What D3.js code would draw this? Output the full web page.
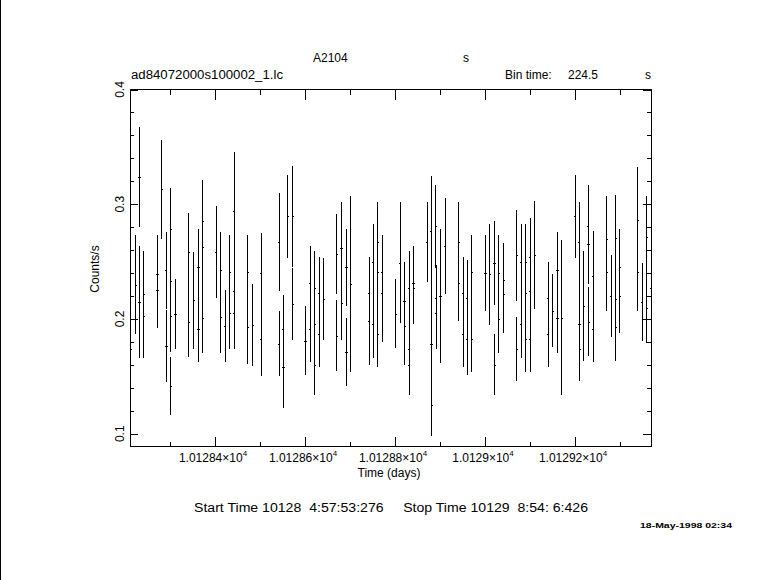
<!DOCTYPE html>
<html><head><meta charset="utf-8">
<script src="https://cdn.jsdelivr.net/npm/d3@7"></script>
<style>
body{margin:0;background:#fff}
svg{display:block}
text{font-family:"Liberation Sans",Arial,sans-serif;fill:#000}
</style>
</head><body>
<svg id="chart" width="781" height="580"></svg>
<script>
// ---- data (time in days, count rate, 1-sigma error) ----
const times = [
10128.2122,10128.2229,10128.2310,10128.2312,10128.2408,10128.2410,10128.2710,10128.2712,10128.2807,10128.2908,
10128.2910,10128.3004,10128.3006,10128.3008,10128.3010,10128.3111,10128.3408,10128.3410,10128.3518,10128.3622,
10128.3624,10128.3716,10128.3718,10128.3720,10128.4016,10128.4116,10128.4118,10128.4216,10128.4316,10128.4318,
10128.4412,10128.4414,10128.4416,10128.4716,10128.4718,10128.4829,10128.5014,10128.5016,10128.5418,10128.5420,
10128.5508,10128.5510,10128.5607,10128.5714,10128.5716,10128.6000,10128.6104,10128.6106,10128.6205,10128.6207,
10128.6209,10128.6304,10128.6306,10128.6407,10128.6696,10128.6698,10128.6800,10128.6802,10128.6910,10128.6912,
10128.7007,10128.7415,10128.7417,10128.7504,10128.7506,10128.7605,10128.7607,10128.7609,10128.7702,10128.7704,
10128.8007,10128.8104,10128.8200,10128.8202,10128.8302,10128.8304,10128.8306,10128.8400,10128.8402,10128.8704,
10128.8798,10128.8800,10128.8802,10128.8900,10128.8902,10128.8904,10128.9000,10128.9104,10128.9406,10128.9408,
10128.9504,10128.9506,10128.9593,10128.9595,10128.9695,10128.9697,10129.0000,10129.0096,10129.0200,10129.0202,
10129.0295,10129.0297,10129.0406,10129.0408,10129.0695,10129.0697,10129.0793,10129.0795,10129.0893,10129.0895,
10129.0897,10129.0989,10129.0991,10129.0993,10129.1096,10129.1393,10129.1395,10129.1496,10129.1599,10129.1601,
10129.1696,10129.1993,10129.2087,10129.2089,10129.2091,10129.2184,10129.2287,10129.2289,10129.2291,10129.2393,
10129.2395,10129.2695,10129.2697,10129.2793,10129.2894,10129.2896,10129.2898,10129.2984,10129.2986,10129.3384,
10129.3386,10129.3482,10129.3584,10129.3586,10129.3678
];
const rates = [
0.1741,0.2300,0.3238,0.2147,0.2219,0.2022,0.2390,0.2251,0.3130,0.2425,
0.1764,0.2785,0.2330,0.2025,0.1416,0.2045,0.2582,0.1973,0.2164,0.2454,
0.1912,0.2855,0.2625,0.2008,0.2586,0.2425,0.2016,0.1938,0.2408,0.2051,
0.2942,0.2243,0.2051,0.2408,0.1929,0.1947,0.2399,0.1825,0.2669,0.1783,
0.1912,0.1581,0.2895,0.2895,0.2131,0.1812,0.2312,0.1912,0.2269,0.1955,
0.1599,0.2225,0.1868,0.2176,0.2565,0.1855,0.2617,0.2138,0.2451,0.1712,
0.2303,0.2228,0.1987,0.2495,0.1955,0.2669,0.2408,0.1871,0.2408,0.2228,
0.2047,0.2491,0.2155,0.1938,0.2269,0.1738,0.1599,0.2312,0.2269,0.2673,
0.2765,0.1781,0.1250,0.2808,0.2182,0.2051,0.2203,0.2638,0.2669,0.2312,
0.2225,0.1868,0.2182,0.1828,0.2408,0.1825,0.2403,0.2390,0.2486,0.1603,
0.2399,0.1999,0.2338,0.2216,0.2556,0.1738,0.2495,0.1955,0.2495,0.2225,
0.1825,0.2541,0.2240,0.1825,0.2560,0.2182,0.1868,0.2073,0.2425,0.2008,
0.2012,0.2895,0.2669,0.1955,0.1738,0.2112,0.2808,0.2652,0.1977,0.2373,
0.1912,0.2695,0.2408,0.2199,0.2704,0.2173,0.1929,0.2451,0.2199,0.2860,
0.2408,0.2147,0.2718,0.2095,0.2269
];
const errors = [
0.0339,0.0432,0.0438,0.0490,0.0374,0.0366,0.0342,0.0325,0.0429,0.0334,
0.0316,0.0354,0.0319,0.0316,0.0255,0.0305,0.0342,0.0308,0.0424,0.0331,
0.0290,0.0357,0.0319,0.0308,0.0399,0.0334,0.0316,0.0316,0.0325,0.0310,
0.0514,0.0290,0.0310,0.0325,0.0325,0.0360,0.0351,0.0325,0.0429,0.0283,
0.0299,0.0357,0.0360,0.0438,0.0312,0.0303,0.0325,0.0290,0.0325,0.0290,
0.0264,0.0316,0.0290,0.0357,0.0351,0.0312,0.0403,0.0319,0.0334,0.0299,
0.0769,0.0316,0.0392,0.0334,0.0299,0.0351,0.0290,0.0293,0.0325,0.0432,
0.0303,0.0529,0.0342,0.0342,0.0325,0.0290,0.0264,0.0325,0.0316,0.0347,
0.0482,0.0502,0.0273,0.0360,0.0290,0.0308,0.0582,0.0416,0.0351,0.0325,
0.0316,0.0290,0.0334,0.0319,0.0325,0.0290,0.0329,0.0438,0.0368,0.0268,
0.0334,0.0299,0.0325,0.0342,0.0395,0.0281,0.0334,0.0299,0.0334,0.0261,
0.0290,0.0339,0.0261,0.0290,0.0469,0.0316,0.0290,0.0321,0.0334,0.0308,
0.0677,0.0360,0.0351,0.0363,0.0281,0.0482,0.0360,0.0351,0.0303,0.0395,
0.0290,0.0377,0.0334,0.0360,0.0377,0.0290,0.0299,0.0334,0.0325,0.0464,
0.0334,0.0342,0.0354,0.0308,0.0290
];
const binTimeSec = 224.5;
const xDomain = [10128.2111, 10129.3689];
const yDomain = [0.0889, 0.4];
const xMajorTicks = [10128.4, 10128.6, 10128.8, 10129.0, 10129.2];
const xMinorTicks = [10128.3, 10128.5, 10128.7, 10128.9, 10129.1, 10129.3];
const xTickMantissas = ["1.01284", "1.01286", "1.01288", "1.0129", "1.01292"];
const yMajorTicks = [0.1, 0.2, 0.3, 0.4];
const yMinorTicks = [0.12,0.14,0.16,0.18,0.22,0.24,0.26,0.28,0.32,0.34,0.36,0.38];
const yTickLabels = ["0.1", "0.2", "0.3", "0.4"];

// ---- drawing ----
const svg = d3.select("#chart");
const L = 130, R = 651, T = 89.5, B = 446.5;
const x = d3.scaleLinear().domain(xDomain).range([L, R]);
const xPix = d3.scaleLinear().domain(xDomain).rangeRound([L, R]);
const y = d3.scaleLinear().domain(yDomain).range([B, T]);
const data = times.map((t, i) => ({t, r: rates[i], e: errors[i]}));
const halfBin = binTimeSec / 86400 / 2;

svg.append("rect").attr("width", 781).attr("height", 580).attr("fill", "#fff");
svg.append("line").attr("x1", 0.5).attr("x2", 0.5).attr("y1", 0).attr("y2", 580)
  .attr("stroke", "#000");

const g = svg.append("g").attr("shape-rendering", "crispEdges");

function axisGroup(axis, tx, ty) {
  const a = g.append("g").attr("transform", `translate(${tx},${ty})`).call(axis);
  a.select(".domain").remove();
  a.selectAll("text").remove();
  a.selectAll("line").attr("stroke", "#000");
}
axisGroup(d3.axisBottom(x).tickValues(xMajorTicks).tickSize(-10).tickFormat(""), 0, B);
axisGroup(d3.axisBottom(x).tickValues(xMinorTicks).tickSize(-5).tickFormat(""), 0, B);
axisGroup(d3.axisTop(x).tickValues(xMajorTicks).tickSize(-10).tickFormat(""), 0, T);
axisGroup(d3.axisTop(x).tickValues(xMinorTicks).tickSize(-5).tickFormat(""), 0, T);
axisGroup(d3.axisLeft(y).tickValues(yMajorTicks).tickSize(-8).tickFormat(""), L, 0);
axisGroup(d3.axisLeft(y).tickValues(yMinorTicks).tickSize(-4).tickFormat(""), L, 0);
axisGroup(d3.axisRight(y).tickValues(yMajorTicks).tickSize(-8).tickFormat(""), R, 0);
axisGroup(d3.axisRight(y).tickValues(yMinorTicks).tickSize(-4).tickFormat(""), R, 0);

g.append("rect").attr("x", L).attr("y", T).attr("width", R - L).attr("height", B - T)
  .attr("fill", "none").attr("stroke", "#000");

// error bars (snapped to device pixels)
const bars = g.append("g").attr("transform", "translate(0.5,0)")
  .attr("stroke", "#000").attr("stroke-width", 1);
bars.selectAll("line.v").data(data).join("line").attr("class", "v")
  .attr("x1", d => xPix(d.t)).attr("x2", d => xPix(d.t))
  .attr("y1", d => y(d.r + d.e)).attr("y2", d => y(d.r - d.e));
bars.selectAll("line.h").data(data).join("line").attr("class", "h")
  .attr("stroke-linecap", "square")
  .attr("x1", d => xPix(d.t - halfBin)).attr("x2", d => xPix(d.t + halfBin))
  .attr("y1", d => Math.round(y(d.r)) + 0.5).attr("y2", d => Math.round(y(d.r)) + 0.5);

// tick labels
const xl = svg.append("g").attr("font-size", 12);
xMajorTicks.forEach((v, i) => {
  const t = xl.append("text").attr("x", x(v) - 2).attr("y", 462).attr("text-anchor", "middle");
  t.append("tspan").text(xTickMantissas[i] + "\u00d710");
  t.append("tspan").attr("dy", -6).attr("font-size", 8).text("4");
});
yMajorTicks.forEach((v, i) => {
  svg.append("text").attr("transform", `translate(124,${y(v)}) rotate(-90)`)
    .attr("text-anchor", "middle").attr("font-size", 12).text(yTickLabels[i]);
});

// titles
svg.append("text").attr("transform", "translate(99,269) rotate(-90)")
  .attr("text-anchor", "middle").attr("font-size", 12).text("Counts/s");
svg.append("text").attr("x", 389).attr("y", 477).attr("text-anchor", "middle")
  .attr("font-size", 12).text("Time (days)");
svg.append("text").attr("x", 313).attr("y", 62).attr("font-size", 12).text("A2104");
svg.append("text").attr("x", 463).attr("y", 62).attr("font-size", 12).text("s");
svg.append("text").attr("x", 131).attr("y", 79).attr("font-size", 12)
  .attr("textLength", 152).attr("lengthAdjust", "spacingAndGlyphs").text("ad84072000s100002_1.lc");
svg.append("text").attr("x", 505).attr("y", 79).attr("font-size", 12).text("Bin time:");
svg.append("text").attr("x", 568).attr("y", 79).attr("font-size", 12).text(binTimeSec.toFixed(1));
svg.append("text").attr("x", 645).attr("y", 79).attr("font-size", 12).text("s");
svg.append("text").attr("x", 194).attr("y", 512).attr("font-size", 12)
  .attr("xml:space", "preserve").style("white-space", "pre")
  .attr("textLength", 394).attr("lengthAdjust", "spacingAndGlyphs")
  .text("Start Time 10128  4:57:53:276     Stop Time 10129  8:54: 6:426");
svg.append("text").attr("x", 640).attr("y", 528).attr("font-size", 8).attr("font-weight", "bold")
  .attr("textLength", 92).attr("lengthAdjust", "spacingAndGlyphs").text("18-May-1998 02:34");
</script>
</body></html>
